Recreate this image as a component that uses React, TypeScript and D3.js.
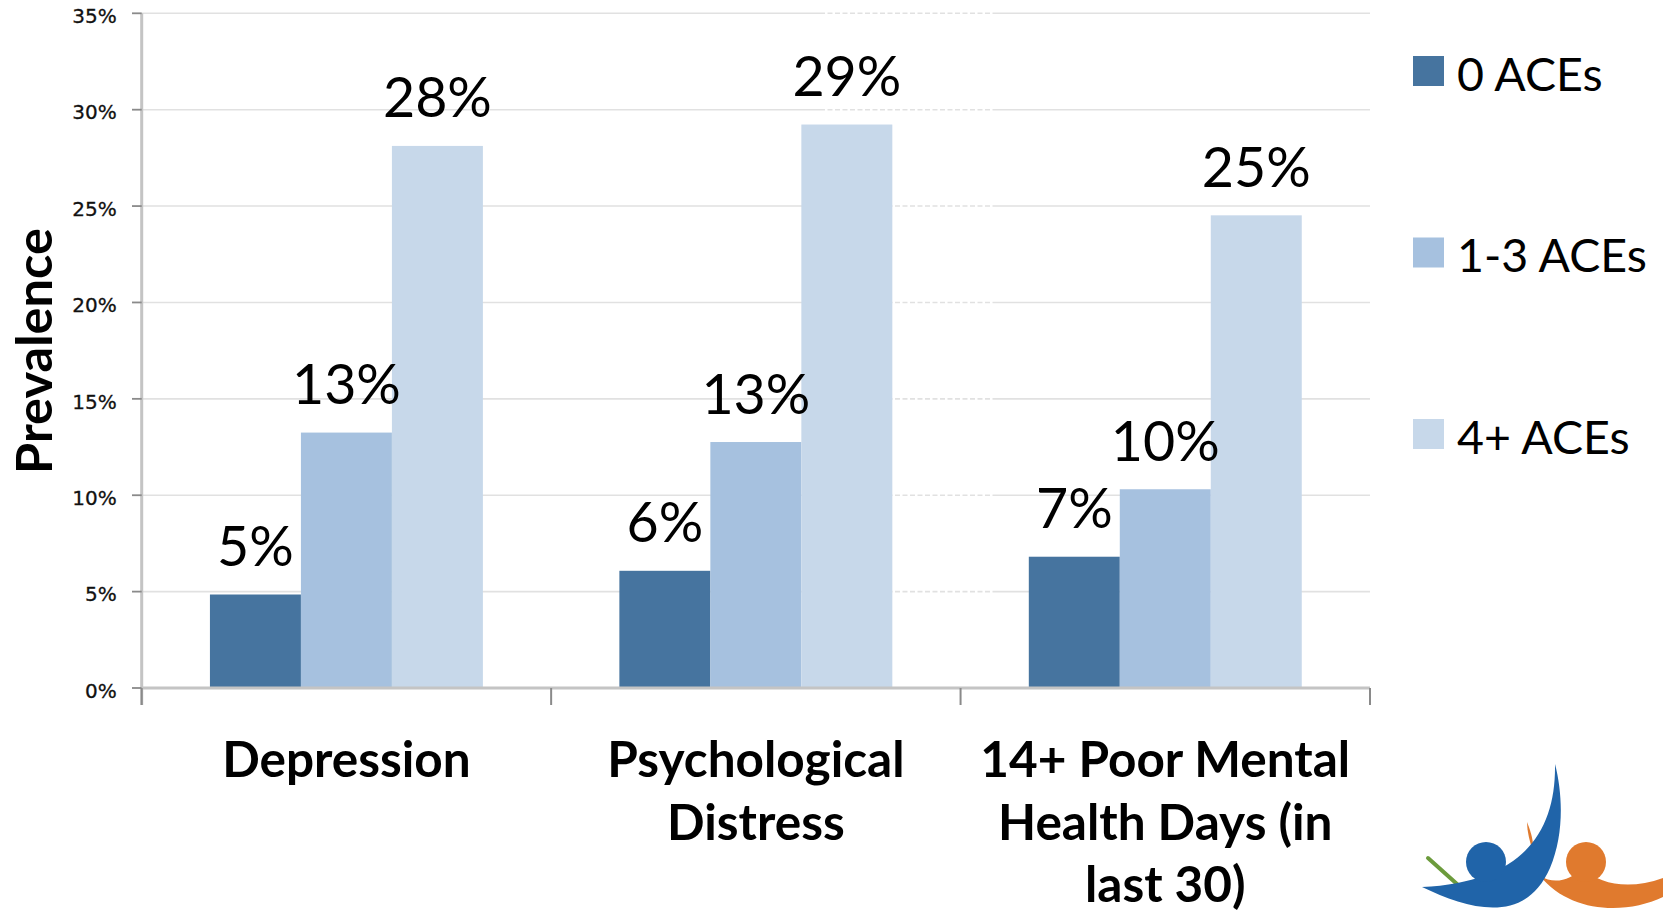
import React from "react";
import * as d3 from "d3";

const categories = ["Depression", "Psychological Distress", "14+ Poor Mental Health Days (in last 30)"];
const categoryLines = [["Depression"], ["Psychological", "Distress"], ["14+ Poor Mental", "Health Days (in", "last 30)"]];
const seriesNames = ["0 ACEs", "1-3 ACEs", "4+ ACEs"];
const aces0 = [4.85, 6.08, 6.81];
const aces13 = [13.25, 12.76, 10.31];
const aces4 = [28.12, 29.23, 24.52];
const valueLabels = [["5%", "6%", "7%"], ["13%", "13%", "10%"], ["28%", "29%", "25%"]];
const yTicks = [0, 5, 10, 15, 20, 25, 30, 35];
const colors = ["#46749f", "#a6c1df", "#c7d8ea"];

const W = 1663;
const H = 913;

export default function App() {
  const series = [aces0, aces13, aces4];
  const x0 = d3.scaleBand<string>().domain(categories).range([141.7, 1370]).paddingInner(0).paddingOuter(0);
  const x1 = d3.scaleBand<string>().domain(seriesNames).range([0, x0.bandwidth()]).paddingInner(0).paddingOuter(0.75);
  const y = d3.scaleLinear().domain([0, 35]).range([688, 13.3]);
  const xLeft = x0.range()[0];
  const xRight = x0.range()[1];
  const dashA = 820;
  const dashB = 993;

  return (
    <svg width={W} height={H} style={{ position: "absolute", left: 0, top: 0, background: "#fff" }}>
      <rect x={0} y={0} width={W} height={H} fill="#fff" />
      {/* gridlines */}
      {yTicks.filter((t) => t > 0).map((t) => (
        <g key={"g" + t}>
          <line x1={xLeft} x2={dashA} y1={y(t)} y2={y(t)} stroke="#e1e1e1" strokeWidth={1.6} />
          <line x1={dashA} x2={dashB} y1={y(t)} y2={y(t)} stroke="#e1e1e1" strokeWidth={1.6} strokeDasharray="5 2.5" />
          <line x1={dashB} x2={xRight} y1={y(t)} y2={y(t)} stroke="#e1e1e1" strokeWidth={1.6} />
        </g>
      ))}
      {/* bars */}
      {categories.map((c, ci) => (
        <g key={c} transform={`translate(${x0(c)},0)`}>
          {seriesNames.map((s, si) => (
            <rect key={s} x={x1(s)} y={y(series[si][ci])} width={x1.bandwidth()} height={y(0) - y(series[si][ci])} fill={colors[si]} />
          ))}
        </g>
      ))}
      {/* value labels */}
      {categories.map((c, ci) => (
        <g key={"l" + c}>
          {seriesNames.map((s, si) => (
            <text key={s} x={(x0(c) as number) + (x1(s) as number) + x1.bandwidth() / 2} y={y(series[si][ci]) - 28.5}
              textAnchor="middle" fontFamily="Lato, 'Open Sans', sans-serif" fontSize={55.5} fill="#000">
              {valueLabels[si][ci]}
            </text>
          ))}
        </g>
      ))}
      {/* y axis */}
      <line x1={xLeft} x2={xLeft} y1={y(35)} y2={705} stroke="#c4c4c4" strokeWidth={3} />
      {yTicks.map((t) => (
        <g key={"t" + t}>
          <line x1={132} x2={xLeft} y1={y(t)} y2={y(t)} stroke="#8a8a8a" strokeWidth={1.8} />
          <text x={116.7} y={y(t) + 9.8} textAnchor="end" fontFamily="'DejaVu Sans', sans-serif" fontSize={20} fill="#111"
            stroke="#111" strokeWidth={0.3}>
            {t + "%"}
          </text>
        </g>
      ))}
      {/* x axis */}
      <line x1={xLeft} x2={xRight} y1={y(0)} y2={y(0)} stroke="#c4c4c4" strokeWidth={3} />
      {[...categories.map((c) => x0(c) as number), xRight].map((px, i) => (
        <line key={"xt" + i} x1={px} x2={px} y1={y(0)} y2={705} stroke="#8a8a8a" strokeWidth={2} />
      ))}
      {categories.map((c, ci) => (
        <text key={"cl" + c} x={(x0(c) as number) + x0.bandwidth() / 2} y={777} textAnchor="middle"
          fontFamily="Lato, sans-serif" fontWeight={700} fontSize={49.5} fill="#000">
          {categoryLines[ci].map((ln, li) => (
            <tspan key={li} x={(x0(c) as number) + x0.bandwidth() / 2} dy={li === 0 ? 0 : 62.5}>{ln}</tspan>
          ))}
        </text>
      ))}
      {/* y title */}
      <text transform="translate(51.7,351) rotate(-90)" textAnchor="middle" fontFamily="Lato, sans-serif" fontWeight={700} fontSize={50.5} fill="#000">
        Prevalence
      </text>
      {/* legend */}
      {seriesNames.map((s, si) => {
        const cy = 71 + si * 181.5;
        return (
          <g key={"lg" + s}>
            <rect x={1413} y={cy - 15} width={31} height={30} fill={colors[si]} />
            <text x={1457} y={cy + 19.5} fontFamily="Lato, sans-serif" fontSize={46.5} fill="#000">{s}</text>
          </g>
        );
      })}
      {/* logo */}
      <g>
        <path d="M1428,858 L1467,893" stroke="#6c9b3c" strokeWidth={4} strokeLinecap="round" />
        <path d="M1527,822 C1531,832 1534,842 1533,852 C1530,842 1527,832 1527,822 Z" fill="#e07a2e" />
        <path d="M1583,868 C1600,885 1630,890 1663,878 L1663,897 C1625,915 1570,913 1540,876 C1555,885 1570,880 1583,868 Z" fill="#e07a2e" />
        <path d="M1555,764 C1556,830 1525,882 1422,887 C1470,910 1525,925 1550,868 C1564,835 1563,795 1555,764 Z" fill="#2064a9" />
        <circle cx={1486} cy={862} r={20} fill="#2064a9" />
        <circle cx={1586} cy={862} r={20} fill="#e07a2e" />
      </g>
    </svg>
  );
}
